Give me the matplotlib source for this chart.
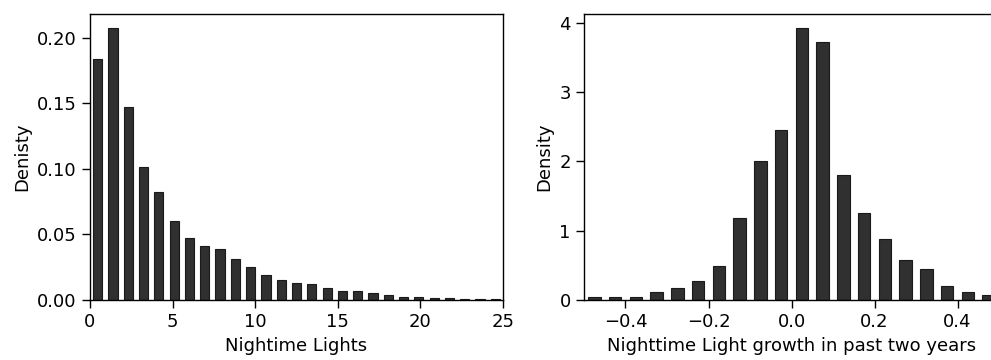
import numpy as np
import matplotlib
matplotlib.use('Agg')
import matplotlib.pyplot as plt

# densities
lights_density = [0.184, 0.207, 0.147, 0.101, 0.082, 0.060, 0.0475, 0.041, 0.039,
                  0.0315, 0.025, 0.019, 0.015, 0.0133, 0.012, 0.0094, 0.0069, 0.0069,
                  0.0051, 0.0038, 0.0025, 0.0025, 0.0012, 0.0012, 0.001, 0.001, 0.001]
lights_range = (0, 25)

growth_density = [0.05, 0.05, 0.05, 0.12, 0.18, 0.28, 0.49, 1.19, 2.01, 2.45,
                  3.92, 3.72, 1.81, 1.26, 0.875, 0.57, 0.44, 0.20, 0.12, 0.07]
growth_range = (-0.5, 0.5)

left_ticks = [0, 5, 10, 15, 20, 25]
left_yticks = [0.00, 0.05, 0.10, 0.15, 0.20]
right_ticks = [-0.4, -0.2, 0.0, 0.2, 0.4]
right_yticks = [0, 1, 2, 3, 4]

plt.rcParams['font.size'] = 13
plt.rcParams['axes.linewidth'] = 1.0

fig = plt.figure(figsize=(9.91, 3.6), dpi=100)
ax1 = fig.add_axes([0.0908, 0.1667, 0.4168, 0.7944])
ax2 = fig.add_axes([0.5893, 0.1667, 0.4188, 0.7944])

def draw(ax, vals, rng):
	edges = np.linspace(rng[0], rng[1], len(vals) + 1)
	bw = edges[1] - edges[0]
	centers = edges[:-1] + bw / 2
	ax.bar(centers, vals, width=bw * 0.6, color='#303030', edgecolor='#1a1a1a', linewidth=0.8)
	ax.set_xlim(rng)
	ax.tick_params(length=6, width=1.0)

draw(ax1, lights_density, lights_range)
ax1.set_ylim(0, 0.218)
ax1.set_xticks(left_ticks)
ax1.set_yticks(left_yticks)
ax1.set_yticklabels(['%.2f' % v for v in left_yticks])
ax1.set_xlabel('Nightime Lights')
ax1.set_ylabel('Denisty')

draw(ax2, growth_density, growth_range)
ax2.set_ylim(0, 4.127)
ax2.set_xticks(right_ticks)
ax2.set_yticks(right_yticks)
ax2.set_xlabel('Nighttime Light growth in past two years')
ax2.set_ylabel('Density')

fig.savefig('out.png', dpi=100)
